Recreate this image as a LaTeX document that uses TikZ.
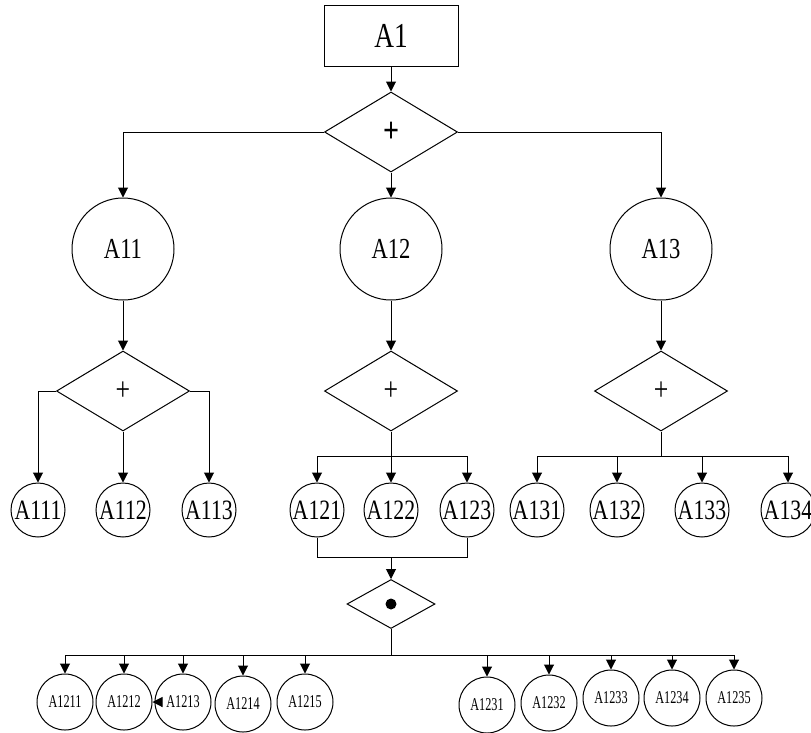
\documentclass[tikz,border=0pt]{standalone}
\usepackage{fontspec}
\setmainfont{Liberation Serif}[FakeStretch=0.78]
\newfontfamily\narrowf{Liberation Serif}[FakeStretch=0.68]
\usetikzlibrary{shapes.geometric,arrows.meta}
\tikzset{
  conn/.style={line width=1pt},
  arr/.style={conn,-{Triangle[length=10pt,width=10pt]}},
  topbox/.style={draw,line width=1pt,minimum width=134pt,minimum height=61pt,inner sep=0pt,font=\fontsize{35}{35}\selectfont},
  dia/.style={draw,line width=1pt,diamond,inner sep=0pt,minimum width=133pt,minimum height=80pt},
  smalldia/.style={draw,line width=1pt,diamond,inner sep=0pt,minimum width=88pt,minimum height=49pt},
  bigc/.style={draw,line width=1pt,circle,inner sep=0pt,minimum size=102pt,font=\fontsize{29}{29}\selectfont},
  midc/.style={draw,line width=1pt,circle,inner sep=0pt,minimum size=54pt,font=\fontsize{28}{28}\selectfont},
  lowc/.style={draw,line width=1pt,circle,inner sep=0pt,minimum size=56pt,font=\narrowf\fontsize{18}{18}\selectfont},
}
\begin{document}
\begin{tikzpicture}[x=1pt,y=-1pt]
\useasboundingbox (0,0) rectangle (811,732);
% top
\node[topbox] (A1) at (391,36) {A1};
\node[dia,font=\fontsize{36}{36}\selectfont\bfseries] (D0) at (391,132) {+};
\node[bigc] (A11) at (123,249) {A11};
\node[bigc] (A12) at (391,249) {A12};
\node[bigc] (A13) at (661,249) {A13};
\draw[arr] (A1) -- (D0);
\draw[arr] (D0.west) -| (A11);
\draw[arr] (D0) -- (A12);
\draw[arr] (D0.east) -| (A13);
% second level diamonds
\node[dia,font=\fontsize{33}{33}\selectfont] (D1) at (123,391) {+};
\node[dia,font=\fontsize{33}{33}\selectfont] (D2) at (391,391) {+};
\node[dia,font=\fontsize{33}{33}\selectfont] (D3) at (661,391) {+};
\draw[arr] (A11) -- (D1);
\draw[arr] (A12) -- (D2);
\draw[arr] (A13) -- (D3);
% third level
\node[midc] (A111) at (38,510) {A111};
\node[midc] (A112) at (123,510) {A112};
\node[midc] (A113) at (209,510) {A113};
\node[midc] (A121) at (317,510) {A121};
\node[midc] (A122) at (391,510) {A122};
\node[midc] (A123) at (467,510) {A123};
\node[midc] (A131) at (537,510) {A131};
\node[midc] (A132) at (617,510) {A132};
\node[midc] (A133) at (702,510) {A133};
\node[midc] (A134) at (788,510) {A134};
\draw[arr] (D1.west) -| (A111);
\draw[arr] (D1) -- (A112);
\draw[arr] (D1.east) -| (A113);
\coordinate (b2) at (391,456);
\coordinate (b3) at (661,456);
\draw[conn] (D2.south) -- (b2);
\draw[arr] (b2) -| (A121);
\draw[arr] (b2) -- (A122);
\draw[arr] (b2) -| (A123);
\draw[conn] (D3.south) -- (b3);
\draw[arr] (b3) -| (A131);
\draw[arr] (b3) -| (A132);
\draw[arr] (b3) -| (A133);
\draw[arr] (b3) -| (A134);
% join of A121 and A123
\node[smalldia] (D4) at (391,604) {};
\fill (D4.center) circle (5.5pt);
\coordinate (j) at (391,557);
\draw[conn] (A121.south) |- (j) -| (A123.south);
\draw[arr] (j) -- (D4.north);
% fourth level
\coordinate (b4) at (391,655);
\draw[conn] (D4.south) -- (b4);
\node[lowc] (A1211) at (65,702) {A1211};
\node[lowc] (A1212) at (124,702) {A1212};
\node[lowc] (A1213) at (183,702) {A1213};
\node[lowc] (A1214) at (243,704) {A1214};
\node[lowc] (A1215) at (305,702) {A1215};
\node[lowc] (A1231) at (487,705) {A1231};
\node[lowc] (A1232) at (549,703) {A1232};
\node[lowc] (A1233) at (611,698) {A1233};
\node[lowc] (A1234) at (672,698) {A1234};
\node[lowc] (A1235) at (734,698) {A1235};
\foreach \n in {A1211,A1212,A1213,A1214,A1215,A1231,A1232,A1233,A1234,A1235}
  \draw[arr] (b4) -| (\n.north);
\draw[arr] (A1213.west) -- (A1212.east);
\end{tikzpicture}
\end{document}
